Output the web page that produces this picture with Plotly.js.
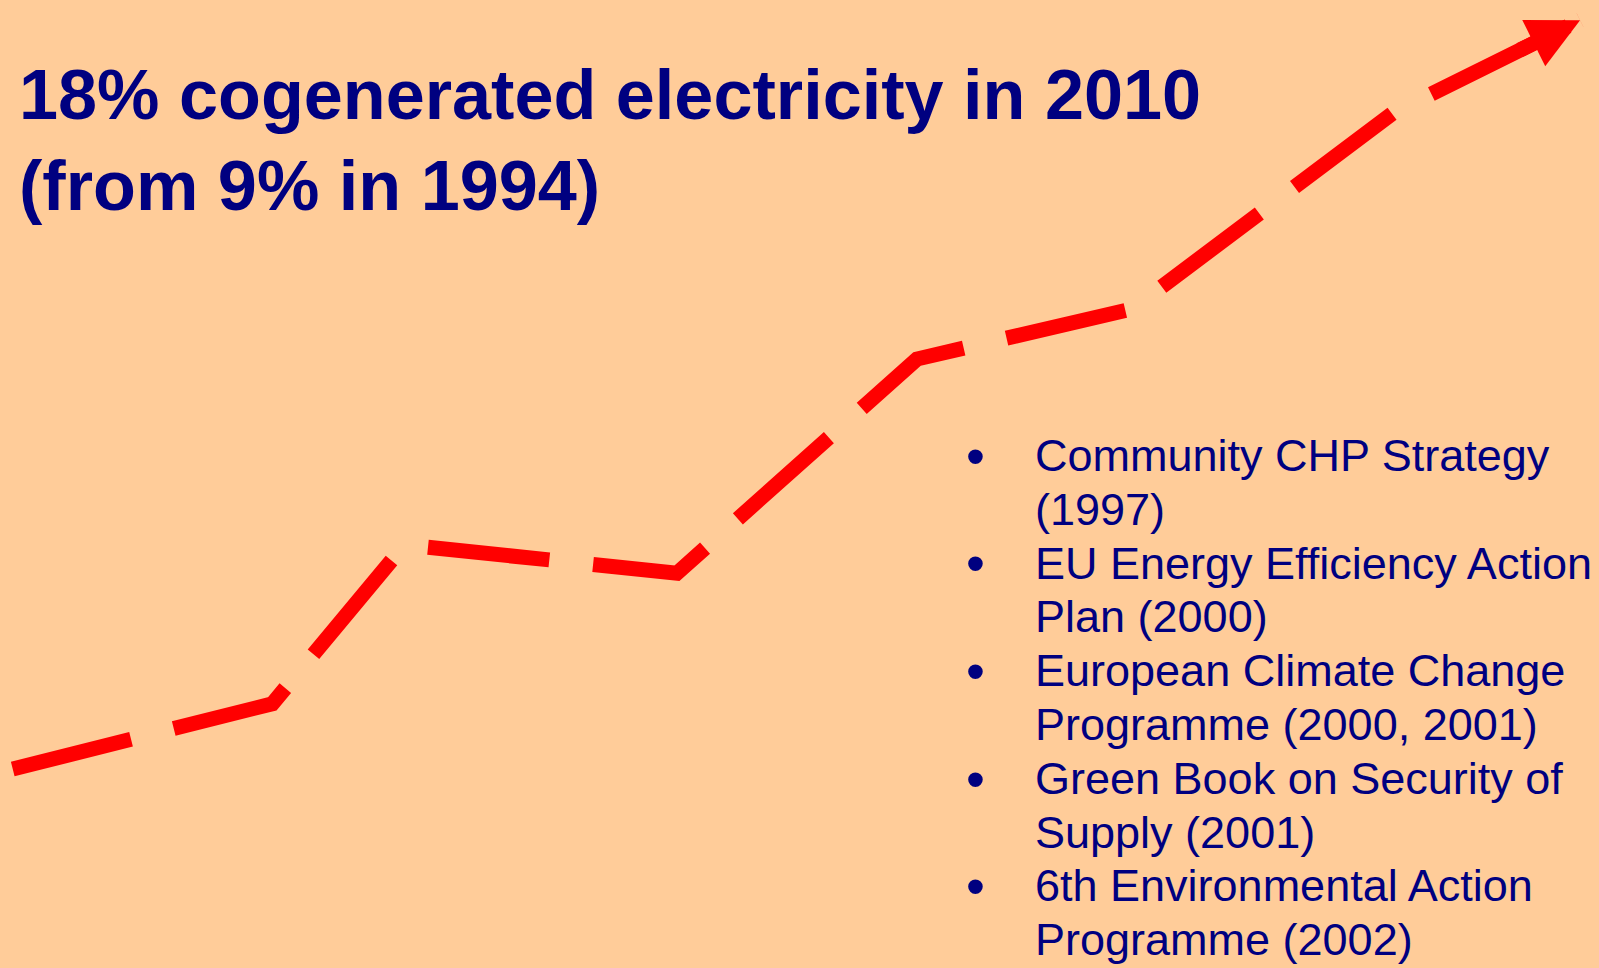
<!DOCTYPE html>
<html>
<head>
<meta charset="utf-8">
<script src="https://cdn.plot.ly/plotly-3.0.1.min.js"></script>
<style>
  html, body { margin: 0; padding: 0; overflow: hidden; background: #FFCC99; }
  #chart { width: 1599px; height: 968px; }
</style>
</head>
<body>
<div id="chart"></div>
<script>
// ---- data ----
const years = [1994, 1996.65, 1998.0, 2000.78, 2003.23, 2005.43, 2008.09, 2010];
const shareCHP = [9.0, 9.78, 11.68, 11.34, 13.90, 14.50, 16.84, 17.95];

const titleLines = ["18% cogenerated electricity in 2010", "(from 9% in 1994)"];

const policyItems = [
  ["Community CHP Strategy", "(1997)"],
  ["EU Energy Efficiency Action", "Plan (2000)"],
  ["European Climate Change", "Programme (2000, 2001)"],
  ["Green Book on Security of", "Supply (2001)"],
  ["6th Environmental Action", "Programme (2002)"]
];

// ---- styling / layout ----
const W = 1599, H = 968;
const navy = "#000080";
const red = "#FF0000";
const textFont = "Arial, 'Liberation Sans', sans-serif";

const trace = {
  type: "scatter",
  mode: "lines",
  x: years,
  y: shareCHP,
  line: { color: red, width: 15, dash: "122px,44px" },
  hoverinfo: "x+y",
  showlegend: false
};

const annotations = [];

// arrow head at the end of the trend line (anchored on the last data points)
const n = years.length;
const tailFrac = 0.67;
annotations.push({
  xref: "x", yref: "y",
  x: years[n - 1], y: shareCHP[n - 1],
  axref: "x", ayref: "y",
  ax: years[n - 2] + tailFrac * (years[n - 1] - years[n - 2]),
  ay: shareCHP[n - 2] + tailFrac * (shareCHP[n - 1] - shareCHP[n - 2]),
  text: "", showarrow: true,
  arrowhead: 2, arrowsize: 0.69, arrowwidth: 15, arrowcolor: red, standoff: 0
});

const firstBaseline = 471;   // px from top
const lineStep = 53.8;       // px between lines
const fs = 45;
let lineIdx = 0;
policyItems.forEach((item) => {
  const base0 = firstBaseline + lineIdx * lineStep;
  annotations.push({
    xref: "paper", yref: "paper",
    x: 975 / W, y: 1 - (base0 - 0.34 * fs) / H,
    xanchor: "center", yanchor: "middle",
    text: "•", showarrow: false,
    font: { family: textFont, size: 54, color: navy }
  });
  item.forEach((ln) => {
    const base = firstBaseline + lineIdx * lineStep;
    annotations.push({
      xref: "paper", yref: "paper",
      x: 1033 / W, y: 1 - (base - 0.3465 * fs) / H,
      xanchor: "left", yanchor: "middle",
      text: ln, showarrow: false,
      font: { family: textFont, size: fs, color: navy }
    });
    lineIdx++;
  });
});

const layout = {
  width: W, height: H,
  margin: { l: 0, r: 0, t: 0, b: 0, pad: 0 },
  paper_bgcolor: "#FFCC99",
  plot_bgcolor: "#FFCC99",
  showlegend: false,
  title: {
    text: "<b>" + titleLines.join("<br>") + "</b>",
    font: { family: textFont, size: 70.2, color: navy, weight: 700 },
    xref: "container", yref: "container",
    x: 19 / W, xanchor: "left",
    y: 1 - 119 / H, yanchor: "top",
    automargin: false
  },
  xaxis: { visible: false, range: [1993.870, 2010.193], fixedrange: true },
  yaxis: { visible: false, range: [6.622, 18.191], fixedrange: true },
  annotations: annotations
};

Plotly.newPlot("chart", [trace], layout, { displayModeBar: false, staticPlot: true });
</script>
</body>
</html>
